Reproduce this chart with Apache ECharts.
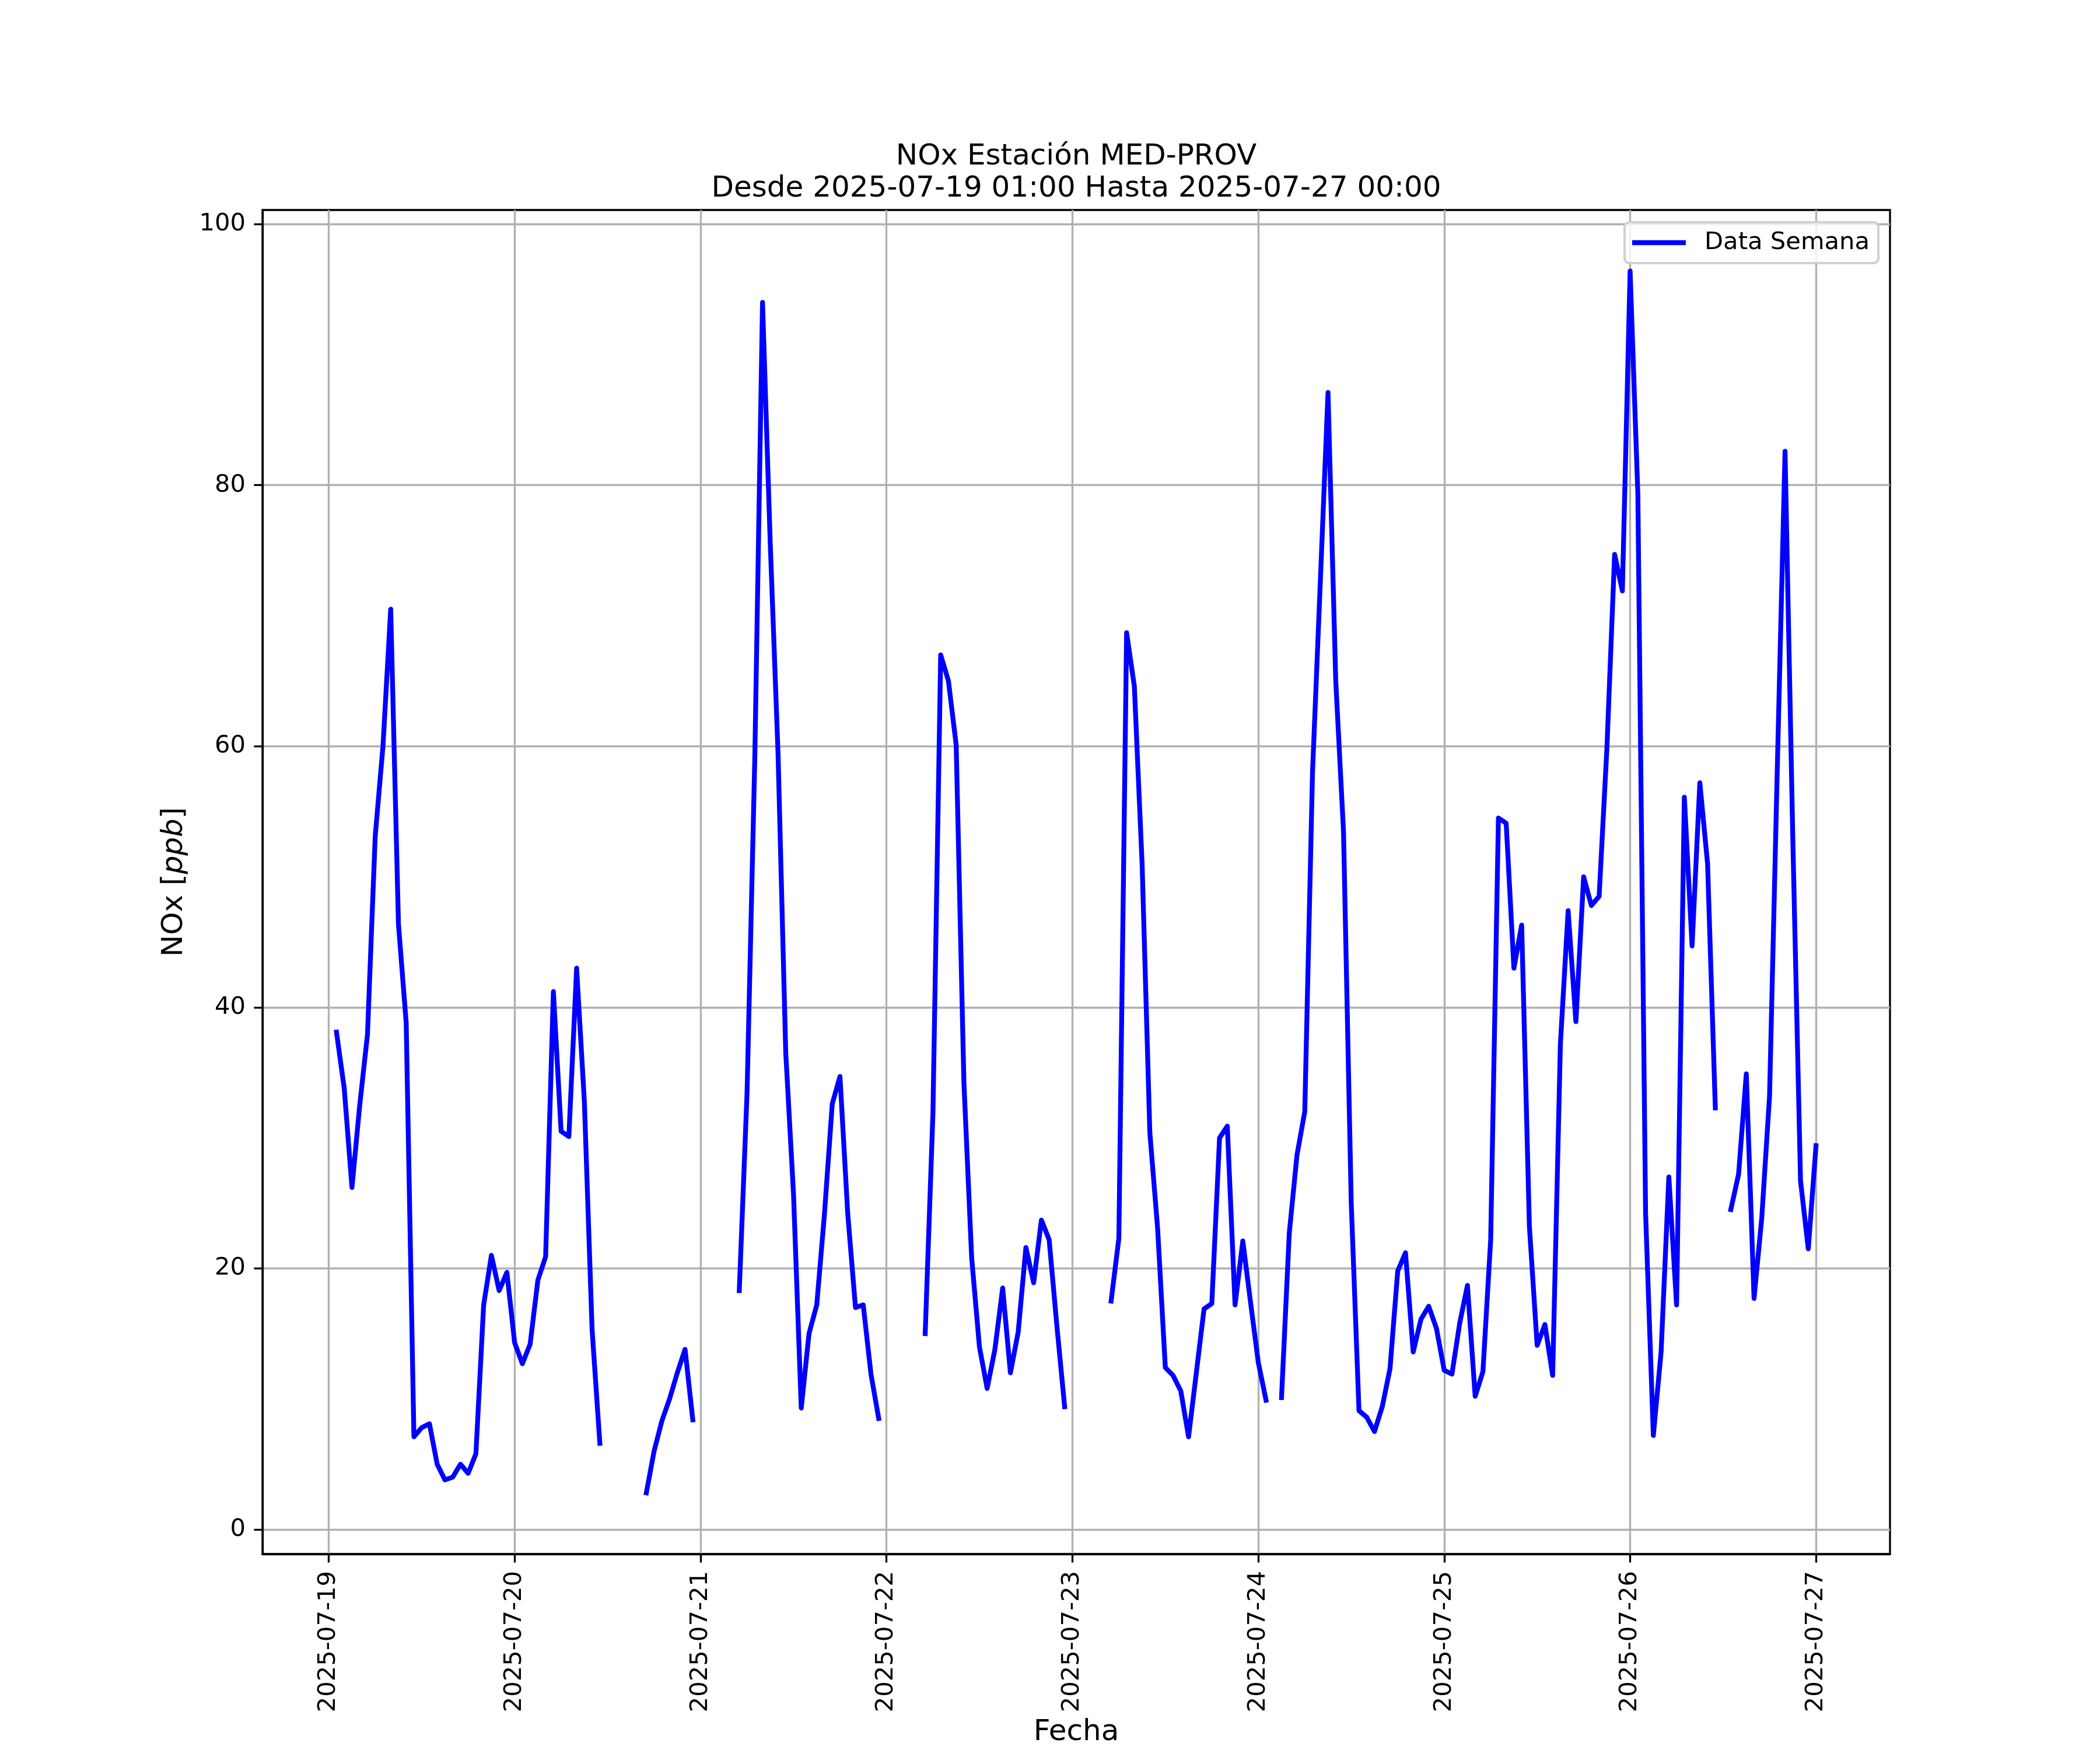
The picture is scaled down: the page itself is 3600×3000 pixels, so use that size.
<!DOCTYPE html>
<html>
<head>
<meta charset="utf-8">
<script src="https://cdn.jsdelivr.net/npm/echarts@6/dist/echarts.min.js"></script>
<style>html,body{margin:0;padding:0;background:#fff}#c{width:3600px;height:3000px}</style>
</head>
<body>
<div id="c"></div>
<script>
// Tick labels
const dayLabels = ['2025-07-19','2025-07-20','2025-07-21','2025-07-22','2025-07-23','2025-07-24','2025-07-25','2025-07-26','2025-07-27'];
const yTicks = [0, 20, 40, 60, 80, 100];
const seriesName = 'Data Semana';
const firstHour = '2025-07-19T01:00:00Z';

// Hourly NOx [ppb]; each array runs from 01:00 of that day to 00:00 of the next day (null = no data)
const nox_0719 = [38.1,33.8,26.2,32.5,37.9,53.1,60.0,70.5,46.4,38.8,7.1,7.8,8.1,5.0,3.8,4.0,5.0,4.3,5.8,17.2,21.0,18.3,19.7,14.3];
const nox_0720 = [12.7,14.2,19.1,20.9,41.2,30.5,30.1,43.0,32.8,15.3,6.6,null,null,null,null,null,2.8,6.0,8.3,10.0,12.0,13.8,8.4,null];
const nox_0721 = [null,null,null,null,18.3,33.4,59.0,94.0,75.5,59.5,36.5,25.7,9.3,15.0,17.2,24.2,32.6,34.7,24.2,17.0,17.2,11.9,8.5,null];
const nox_0722 = [null,null,null,null,15.0,31.9,67.0,65.0,60.1,34.2,20.8,14.0,10.8,13.8,18.5,12.0,15.1,21.6,18.9,23.7,22.2,15.6,9.4,null];
const nox_0723 = [null,null,null,null,17.5,22.3,68.7,64.6,51.0,30.4,23.1,12.4,11.8,10.6,7.1,12.0,16.9,17.3,30.0,30.9,17.2,22.1,17.4,12.8];
const nox_0724 = [9.9,null,10.1,22.7,28.7,32.0,58.0,72.5,87.1,65.0,53.5,25.0,9.1,8.6,7.5,9.4,12.3,19.8,21.2,13.6,16.1,17.1,15.4,12.2];
const nox_0725 = [11.9,15.8,18.7,10.2,12.1,22.2,54.5,54.1,43.0,46.3,23.2,14.1,15.7,11.8,37.2,47.4,38.9,50.0,47.8,48.5,59.8,74.7,71.9,96.4];
const nox_0726 = [79.3,24.2,7.2,13.6,27.0,17.2,56.1,44.7,57.2,51.0,32.3,null,24.5,27.2,34.9,17.7,23.9,33.2,58.3,82.6,53.0,26.7,21.5,29.4];

const HOUR = 3600000;
const values = [].concat(nox_0719, nox_0720, nox_0721, nox_0722, nox_0723, nox_0724, nox_0725, nox_0726);
const t0 = Date.parse(firstHour);
const points = values.map((v, i) => [t0 + i * HOUR, v == null ? '-' : v]);
const dayTicks = dayLabels.map(s => Date.parse(s + 'T00:00:00Z'));

// matplotlib-like 5% autoscale margins
const tFirst = points[0][0], tLast = points[points.length - 1][0];
const xPad = (tLast - tFirst) * 0.05;
const nums = values.filter(v => v != null);
const vMin = Math.min.apply(null, nums), vMax = Math.max.apply(null, nums);
const yPad = (vMax - vMin) * 0.05;

const FONT = 'DejaVu Sans';
const titleText = 'NOx Estación MED-PROV\nDesde 2025-07-19 01:00 Hasta 2025-07-27 00:00';
const plotLeft = 450, plotRight = 3240;
const plotCenter = (plotLeft + plotRight) / 2;

function dayLabel(v) {
  let best = 0, bd = Infinity;
  dayTicks.forEach((d, i) => { const dd = Math.abs(d - v); if (dd < bd) { bd = dd; best = i; } });
  return bd < HOUR ? dayLabels[best] : '';
}

const chart = echarts.init(document.getElementById('c'), null, {renderer: 'canvas'});
chart.setOption({
  backgroundColor: '#ffffff',
  animation: false,
  title: {
    text: titleText,
    left: plotCenter,
    top: 242,
    textAlign: 'center',
    padding: 0,
    textStyle: {fontFamily: FONT, fontSize: 50, fontWeight: 'normal', color: '#000', lineHeight: 55}
  },
  legend: {
    data: [seriesName],
    right: 380,
    top: 381,
    icon: 'rect',
    itemWidth: 92,
    itemHeight: 8.3,
    padding: [14, 15, 14, 13],
    backgroundColor: 'rgba(255,255,255,0.8)',
    borderColor: '#d0d0d0',
    borderWidth: 4,
    borderRadius: 8,
    textStyle: {fontFamily: FONT, fontSize: 41.7, color: '#000', padding: [0, 0, 0, 27]}
  },
  grid: {
    left: plotLeft, right: 3600 - plotRight, top: 360, bottom: 308,
    show: true, borderColor: '#000', borderWidth: 3.3, backgroundColor: 'transparent'
  },
  xAxis: {
    type: 'value',
    min: tFirst - xPad,
    max: tLast + xPad,
    name: 'Fecha',
    nameLocation: 'middle',
    nameGap: 281,
    nameTextStyle: {fontFamily: FONT, fontSize: 50, color: '#000', verticalAlign: 'top'},
    axisLine: {show: true, onZero: false, lineStyle: {color: '#000', width: 3.3}},
    axisTick: {show: true, length: 14.6, lineStyle: {color: '#000', width: 3.3}, customValues: dayTicks},
    axisLabel: {
      show: true, rotate: 90, margin: 29, fontFamily: FONT, fontSize: 41.7, color: '#000',
      customValues: dayTicks,
      formatter: dayLabel
    },
    splitLine: {show: true, lineStyle: {color: '#b0b0b0', width: 3.3}}
  },
  yAxis: {
    type: 'value',
    min: vMin - yPad,
    max: vMax + yPad,
    name: 'NOx [{i|ppb}]',
    nameLocation: 'middle',
    nameRotate: 90,
    nameGap: 126,
    nameTextStyle: {
      fontFamily: FONT, fontSize: 50, color: '#000',
      rich: {i: {fontFamily: FONT, fontSize: 50, fontStyle: 'italic', color: '#000'}}
    },
    axisLine: {show: true, onZero: false, lineStyle: {color: '#000', width: 3.3}},
    axisTick: {show: true, length: 14.6, lineStyle: {color: '#000', width: 3.3}, customValues: yTicks},
    axisLabel: {show: true, margin: 29, fontFamily: FONT, fontSize: 41.7, color: '#000', customValues: yTicks},
    splitLine: {show: true, lineStyle: {color: '#b0b0b0', width: 3.3}}
  },
  series: [{
    name: seriesName,
    type: 'line',
    data: points,
    showSymbol: false,
    symbol: 'none',
    connectNulls: false,
    lineStyle: {color: '#0000ff', width: 8.3, cap: 'square', join: 'round'},
    itemStyle: {color: '#0000ff'}
  }]
});
</script>
</body>
</html>
